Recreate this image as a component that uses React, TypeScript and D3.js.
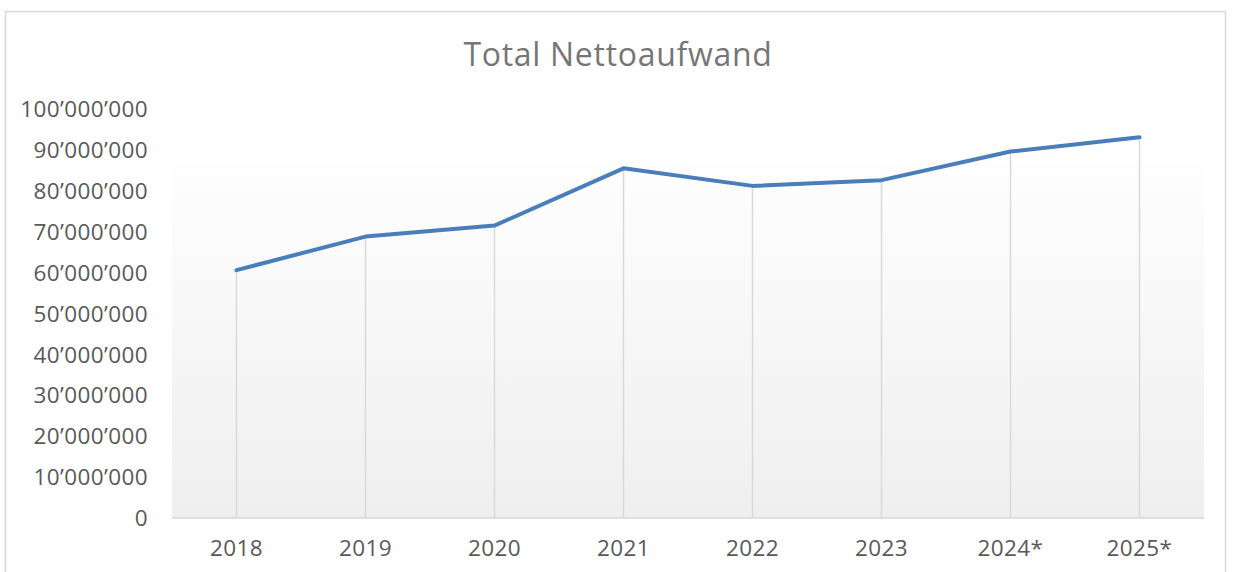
import React from 'react';
import * as d3 from 'd3';

const years = ['2018', '2019', '2020', '2021', '2022', '2023', '2024*', '2025*'];
const netExpense = [60600000, 68800000, 71500000, 85500000, 81200000, 82600000, 89600000, 93100000];
const yTicks = [0, 10000000, 20000000, 30000000, 40000000, 50000000, 60000000, 70000000, 80000000, 90000000, 100000000];

const W = 1234;
const H = 572;
const plot = { left: 172, right: 1204, top: 109, bottom: 518, fillTop: 163 };
const font = '"Open Sans", sans-serif';

const swiss = d3.formatLocale({ decimal: '.', thousands: '\u2019', grouping: [3], currency: ['', ''] });
const fmt = swiss.format(',d');

const App = () => {
  const x = d3.scaleBand().domain(years).range([plot.left, plot.right]);
  const y = d3.scaleLinear().domain([0, 100000000]).range([plot.bottom, plot.top]);
  const cx = (d: string) => (x(d) as number) + x.bandwidth() / 2;

  const line = d3.line<number>()
    .x((_, i) => cx(years[i]))
    .y(d => y(d));

  return (
    <svg width={W} height={H} style={{ position: 'absolute', left: 0, top: 0, background: 'white' }}>
      <defs>
        <linearGradient id="plotFill" x1="0" y1="0" x2="0" y2="1">
          <stop offset="0" stopColor="#fefefe" />
          <stop offset="1" stopColor="#efefef" />
        </linearGradient>
      </defs>
      <rect x={5.5} y={11.5} width={1220} height={600} fill="white" stroke="#d9d9d9" strokeWidth={1.5} />

      <text x={618} y={66} textAnchor="middle" fontFamily={font} fontSize={32} letterSpacing={0.7} fill="#767676">
        Total Nettoaufwand
      </text>

      <rect x={plot.left} y={plot.fillTop} width={plot.right - plot.left} height={plot.bottom - plot.fillTop} fill="url(#plotFill)" />

      {/* drop lines */}
      {netExpense.map((v, i) => (
        <line key={years[i]} x1={cx(years[i])} x2={cx(years[i])} y1={y(v)} y2={plot.bottom}
          stroke="#d9d9d9" strokeWidth={1.5} />
      ))}

      <line x1={plot.left} x2={plot.right} y1={plot.bottom} y2={plot.bottom} stroke="#d9d9d9" strokeWidth={1.5} />

      {yTicks.map(t => (
        <text key={t} x={148} y={y(t)} dy="0.36em" textAnchor="end" fontFamily={font} fontSize={22.5} letterSpacing={0.4} fill="#595959">
          {fmt(t)}
        </text>
      ))}

      {years.map(d => (
        <text key={d} x={cx(d)} y={548} dy="0.36em" textAnchor="middle" fontFamily={font} fontSize={22.5} letterSpacing={0.4} fill="#595959">
          {d}
        </text>
      ))}

      <path d={line(netExpense) || ''} fill="none" stroke="#4a7ebb" strokeWidth={4} strokeLinejoin="round" strokeLinecap="round" />
    </svg>
  );
};

export default App;
